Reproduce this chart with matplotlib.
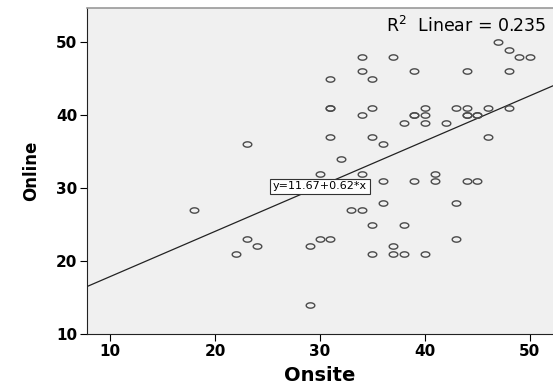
import matplotlib
matplotlib.use("Agg")
import matplotlib.pyplot as plt
import numpy as np
from matplotlib.path import Path

# scatter data (Onsite vs Online scores)
onsite = [34, 37, 34, 39, 31, 35, 31, 31, 35, 34, 40, 39, 39, 40, 38, 40,
          47, 48, 49, 50, 44, 48, 43, 44, 46, 48, 44, 44, 45, 45, 42,
          31, 35, 36, 32, 30, 34, 36, 39, 36, 33, 34,
          46, 41, 41, 44, 45, 43,
          35, 38, 30, 31, 29, 37, 35, 37, 38, 40, 29,
          43, 23, 18, 23, 24, 22]
online = [48, 48, 46, 46, 45, 45, 41, 41, 41, 40, 41, 40, 40, 40, 39, 39,
          50, 49, 48, 48, 46, 46, 41, 41, 41, 41, 40, 40, 40, 40, 39,
          37, 37, 36, 34, 32, 32, 31, 31, 28, 27, 27,
          37, 32, 31, 31, 31, 28,
          25, 25, 23, 23, 22, 22, 21, 21, 21, 21, 14,
          23, 36, 27, 23, 22, 21]

intercept = 11.67
slope = 0.62
r_squared = 0.235

x_ticks = [10, 20, 30, 40, 50]
y_ticks = [10, 20, 30, 40, 50]

plt.rcParams['font.family'] = ['DejaVu Sans']

fig = plt.figure(figsize=(5.53, 3.88), dpi=100)
ax = fig.add_axes([87/553, 54/388, 466/553, 326/388])
ax.set_facecolor('#f0f0f0')

# flattened open circle, as in the SPSS export
t = np.linspace(0, 2*np.pi, 40)
ell = Path(np.column_stack([np.cos(t), 0.62*np.sin(t)]), closed=True)

ax.plot(onsite, online, linestyle='none', marker=ell, markersize=6.2,
        markerfacecolor='none', markeredgecolor='#4a4a4a', markeredgewidth=1.0,
        zorder=3)

xmin, xmax = 7.8, 52.2
xs = np.array([xmin, xmax])
ax.plot(xs, intercept + slope*xs, color='#222222', linewidth=0.9, zorder=2)

ax.text(30, intercept + slope*30, f'y={intercept:.2f}+{slope:.2f}*x',
        ha='center', va='center', fontsize=8, zorder=4,
        bbox=dict(facecolor='white', edgecolor='#333333', linewidth=0.8,
                  boxstyle='square,pad=0.22'))

ax.text(0.985, 0.975, f'R$^2$  Linear = {r_squared:.3f}', transform=ax.transAxes,
        ha='right', va='top', fontsize=12.5)

ax.set_xlim(xmin, xmax)
ax.set_ylim(10, 54.7)
ax.set_xticks(x_ticks)
ax.set_yticks(y_ticks)
ax.tick_params(direction='out', length=5, width=0.8, labelsize=11, pad=2)
for lab in ax.get_xticklabels() + ax.get_yticklabels():
    lab.set_fontweight('bold')

ax.spines['right'].set_visible(False)
ax.spines['top'].set_color('#999999')
ax.spines['top'].set_linewidth(1.2)
ax.spines['left'].set_color('#222222')
ax.spines['bottom'].set_color('#222222')

ax.set_xlabel('Onsite', fontsize=14, fontweight='bold', labelpad=5)
ax.set_ylabel('Online', fontsize=12, fontweight='bold', labelpad=11)

fig.savefig('out.png', dpi=100)
